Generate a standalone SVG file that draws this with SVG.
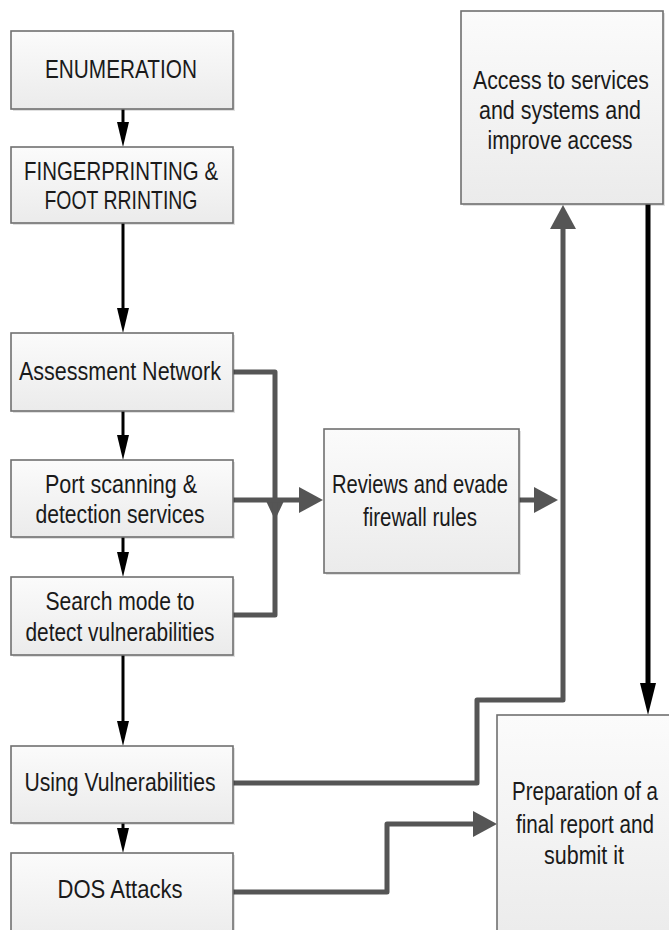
<svg xmlns="http://www.w3.org/2000/svg" width="669" height="930" viewBox="0 0 669 930">
<style>
.box{fill:url(#bg);stroke:#707070;stroke-width:1.6}
.sh{fill:#000;opacity:0.12}
.t{font-family:"Liberation Sans",Arial,sans-serif;font-size:25px;fill:#1a1a1a;text-anchor:middle}
.blk{fill:none;stroke:#000;stroke-width:3}
.blk5{fill:none;stroke:#000;stroke-width:5}
.gr{fill:none;stroke:#555;stroke-width:5;stroke-linejoin:round}
</style>
<defs>
<linearGradient id="bg" x1="0" y1="0" x2="0" y2="1">
<stop offset="0" stop-color="#fbfbfb"/>
<stop offset="1" stop-color="#ebebeb"/>
</linearGradient>
<marker id="ab" markerUnits="userSpaceOnUse" markerWidth="25" markerHeight="12" refX="0" refY="6" orient="auto" overflow="visible">
<path d="M0,0 L25,6 L0,12 z" fill="#000"/>
</marker>
<marker id="abig" markerUnits="userSpaceOnUse" markerWidth="32" markerHeight="16" refX="0" refY="8" orient="auto" overflow="visible">
<path d="M0,0 L32,8 L0,16 z" fill="#000"/>
</marker>
<marker id="ag" markerUnits="userSpaceOnUse" markerWidth="24" markerHeight="26" refX="0" refY="13" orient="auto" overflow="visible">
<path d="M0,0 L24,13 L0,26 z" fill="#555"/>
</marker>
<marker id="ags" markerUnits="userSpaceOnUse" markerWidth="18" markerHeight="17" refX="0" refY="8.5" orient="auto" overflow="visible">
<path d="M0,0 L18,8.5 L0,17 z" fill="#555"/>
</marker>
</defs>
<rect width="669" height="930" fill="#fff"/>

<g id="connectors">
<path class="blk" d="M123,109 V122" marker-end="url(#ab)"/>
<path class="blk" d="M123,223 V308" marker-end="url(#ab)"/>
<path class="blk" d="M123,411 V435" marker-end="url(#ab)"/>
<path class="blk" d="M123,537 V552" marker-end="url(#ab)"/>
<path class="blk" d="M123,655 V721" marker-end="url(#ab)"/>
<path class="blk" d="M123,823 V828" marker-end="url(#ab)"/>
<path class="blk5" d="M648,199 V683" marker-end="url(#abig)"/>
<path class="gr" d="M233,372 H275 V502" marker-end="url(#ags)"/>
<path class="gr" d="M233,615 H275 V500"/>
<path class="gr" d="M233,500 H299" marker-end="url(#ag)"/>
<path class="gr" d="M519,500 H534" marker-end="url(#ag)"/>
<path class="gr" d="M233,783 H477 V700 H563 V229" marker-end="url(#ag)"/>
<path class="gr" d="M233,892 H387 V824 H473" marker-end="url(#ag)"/>
</g>

<g id="enumeration">
<rect class="sh" x="13" y="33" width="222" height="78"/>
<rect class="box" x="11" y="31" width="222" height="78"/>
<text class="t" x="121" y="78" textLength="152" lengthAdjust="spacingAndGlyphs">ENUMERATION</text>
</g>
<g id="fingerprinting">
<rect class="sh" x="13" y="149" width="222" height="76"/>
<rect class="box" x="11" y="147" width="222" height="76"/>
<text class="t" x="121" y="180" textLength="194" lengthAdjust="spacingAndGlyphs">FINGERPRINTING &amp;</text>
<text class="t" x="121" y="209" textLength="153" lengthAdjust="spacingAndGlyphs">FOOT RRINTING</text>
</g>
<g id="assessment">
<rect class="sh" x="13" y="335" width="222" height="78"/>
<rect class="box" x="11" y="333" width="222" height="78"/>
<text class="t" x="120" y="380" textLength="202" lengthAdjust="spacingAndGlyphs">Assessment Network</text>
</g>
<g id="portscan">
<rect class="sh" x="13" y="462" width="222" height="77"/>
<rect class="box" x="11" y="460" width="222" height="77"/>
<text class="t" x="121" y="493" textLength="152" lengthAdjust="spacingAndGlyphs">Port scanning &amp;</text>
<text class="t" x="120" y="523" textLength="169" lengthAdjust="spacingAndGlyphs">detection services</text>
</g>
<g id="searchmode">
<rect class="sh" x="13" y="579" width="222" height="78"/>
<rect class="box" x="11" y="577" width="222" height="78"/>
<text class="t" x="120" y="610" textLength="149" lengthAdjust="spacingAndGlyphs">Search mode to</text>
<text class="t" x="120" y="641" textLength="189" lengthAdjust="spacingAndGlyphs">detect vulnerabilities</text>
</g>
<g id="usingvuln">
<rect class="sh" x="13" y="748" width="222" height="77"/>
<rect class="box" x="11" y="746" width="222" height="77"/>
<text class="t" x="120" y="791" textLength="191" lengthAdjust="spacingAndGlyphs">Using Vulnerabilities</text>
</g>
<g id="dos">
<rect class="sh" x="13" y="855" width="222" height="90"/>
<rect class="box" x="11" y="853" width="222" height="90"/>
<text class="t" x="120" y="898" textLength="125" lengthAdjust="spacingAndGlyphs">DOS Attacks</text>
</g>
<g id="reviews">
<rect class="sh" x="326" y="431" width="195" height="144"/>
<rect class="box" x="324" y="429" width="195" height="144"/>
<text class="t" x="420" y="493" textLength="176" lengthAdjust="spacingAndGlyphs">Reviews and evade</text>
<text class="t" x="420" y="526" textLength="114" lengthAdjust="spacingAndGlyphs">firewall rules</text>
</g>
<g id="access">
<rect class="sh" x="463" y="13" width="202" height="193"/>
<rect class="box" x="461" y="11" width="202" height="193"/>
<text class="t" x="561" y="89" textLength="176" lengthAdjust="spacingAndGlyphs">Access to services</text>
<text class="t" x="560" y="119" textLength="162" lengthAdjust="spacingAndGlyphs">and systems and</text>
<text class="t" x="560" y="149" textLength="145" lengthAdjust="spacingAndGlyphs">improve access</text>
</g>
<g id="report">
<rect class="box" x="497" y="715" width="200" height="230"/>
<text class="t" x="585" y="800" textLength="146" lengthAdjust="spacingAndGlyphs">Preparation of a</text>
<text class="t" x="585" y="833" textLength="138" lengthAdjust="spacingAndGlyphs">final report and</text>
<text class="t" x="584" y="864" textLength="80" lengthAdjust="spacingAndGlyphs">submit it</text>
</g>
</svg>
